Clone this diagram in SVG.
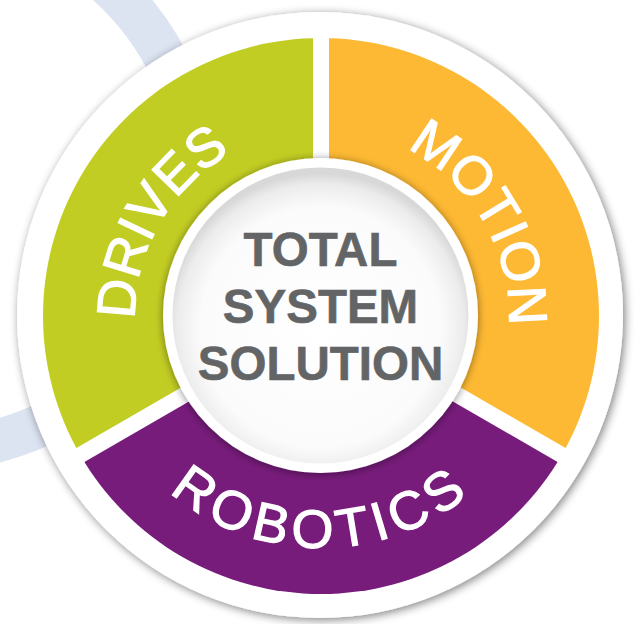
<svg xmlns="http://www.w3.org/2000/svg" xmlns:xlink="http://www.w3.org/1999/xlink" width="640" height="624" viewBox="0 0 640 624">
  <style>
    .lbl { fill: #ffffff; stroke: #ffffff; stroke-width: 1.2px; font-family: "Liberation Sans", Arial, sans-serif; font-size: 54px; }
    .ctr { fill: #636466; stroke: #636466; stroke-width: 0.6px; font-family: "Liberation Sans", Arial, sans-serif; font-weight: bold; font-size: 47.5px; text-anchor: middle; }
    .gap { stroke: #ffffff; stroke-width: 16; stroke-linecap: butt; }
  </style>
  <defs>
    <filter id="outerShadow" x="-10%" y="-10%" width="120%" height="120%">
      <feGaussianBlur in="SourceAlpha" stdDeviation="5"/>
      <feOffset dx="2" dy="2" result="b"/>
      <feComponentTransfer><feFuncA type="linear" slope="0.5"/></feComponentTransfer>
      <feMerge><feMergeNode/><feMergeNode in="SourceGraphic"/></feMerge>
    </filter>
    <filter id="centerShadow" x="-15%" y="-15%" width="130%" height="130%">
      <feGaussianBlur in="SourceAlpha" stdDeviation="4"/>
      <feOffset dx="0" dy="1"/>
      <feComponentTransfer><feFuncA type="linear" slope="0.45"/></feComponentTransfer>
      <feMerge><feMergeNode/><feMergeNode in="SourceGraphic"/></feMerge>
    </filter>
    <radialGradient id="discGrad" cx="50%" cy="54%" r="52%">
      <stop offset="0" stop-color="#ffffff"/>
      <stop offset="0.78" stop-color="#fbfbfb"/>
      <stop offset="0.93" stop-color="#ececec"/>
      <stop offset="1" stop-color="#d8d8d8"/>
    </radialGradient>
    <path id="pDrives" d="M159.92,409 A186,186 0 0 1 321,130"/>
    <path id="pMotion" d="M321,128 A188,188 0 0 1 483.8,410"/>
    <path id="pRobotics" d="M120.1,432 A232,232 0 0 0 521.9,432"/>
  </defs>

  <rect width="640" height="624" fill="#ffffff"/>

  <g id="background-arc">
    <circle cx="-70" cy="183" r="266.5" fill="none" stroke="#dce3f1" stroke-width="43"/>
  </g>

  <g id="outer-disc">
    <circle cx="320" cy="315" r="303" fill="#ffffff" filter="url(#outerShadow)"/>
  </g>

  <g id="drives">
    <path d="M321,316 L80.25,455 A278,278 0 0 1 321,38 Z" fill="#c2cd23"/>
  </g>
  <g id="motion">
    <path d="M321,316 L321,38 A278,278 0 0 1 561.75,455 Z" fill="#fdb933"/>
  </g>
  <g id="robotics">
    <path d="M321,316 L561.75,455 A278,278 0 0 1 80.25,455 Z" fill="#771c7b"/>
  </g>

  <g id="connectors">
    <line class="gap" x1="321" y1="316" x2="321" y2="26"/>
    <line class="gap" x1="321" y1="316" x2="572" y2="461"/>
    <line class="gap" x1="321" y1="316" x2="70" y2="461"/>
  </g>

  <g id="labels">
    <text class="lbl"><textPath xlink:href="#pDrives" href="#pDrives" startOffset="50%" text-anchor="middle">DRIVES</textPath></text>
    <text class="lbl"><textPath xlink:href="#pMotion" href="#pMotion" startOffset="50%" text-anchor="middle">MOTION</textPath></text>
    <text class="lbl" style="letter-spacing:6px"><textPath xlink:href="#pRobotics" href="#pRobotics" startOffset="50%" text-anchor="middle">ROBOTICS</textPath></text>
  </g>

  <g id="center">
    <circle cx="320.5" cy="315.5" r="157.5" fill="#ffffff" filter="url(#centerShadow)"/>
    <circle cx="320.5" cy="315.5" r="148" fill="url(#discGrad)"/>
    <text class="ctr" x="320.5" y="266">TOTAL</text>
    <text class="ctr" x="320.5" y="323">SYSTEM</text>
    <text class="ctr" x="320.5" y="380">SOLUTION</text>
  </g>
</svg>
